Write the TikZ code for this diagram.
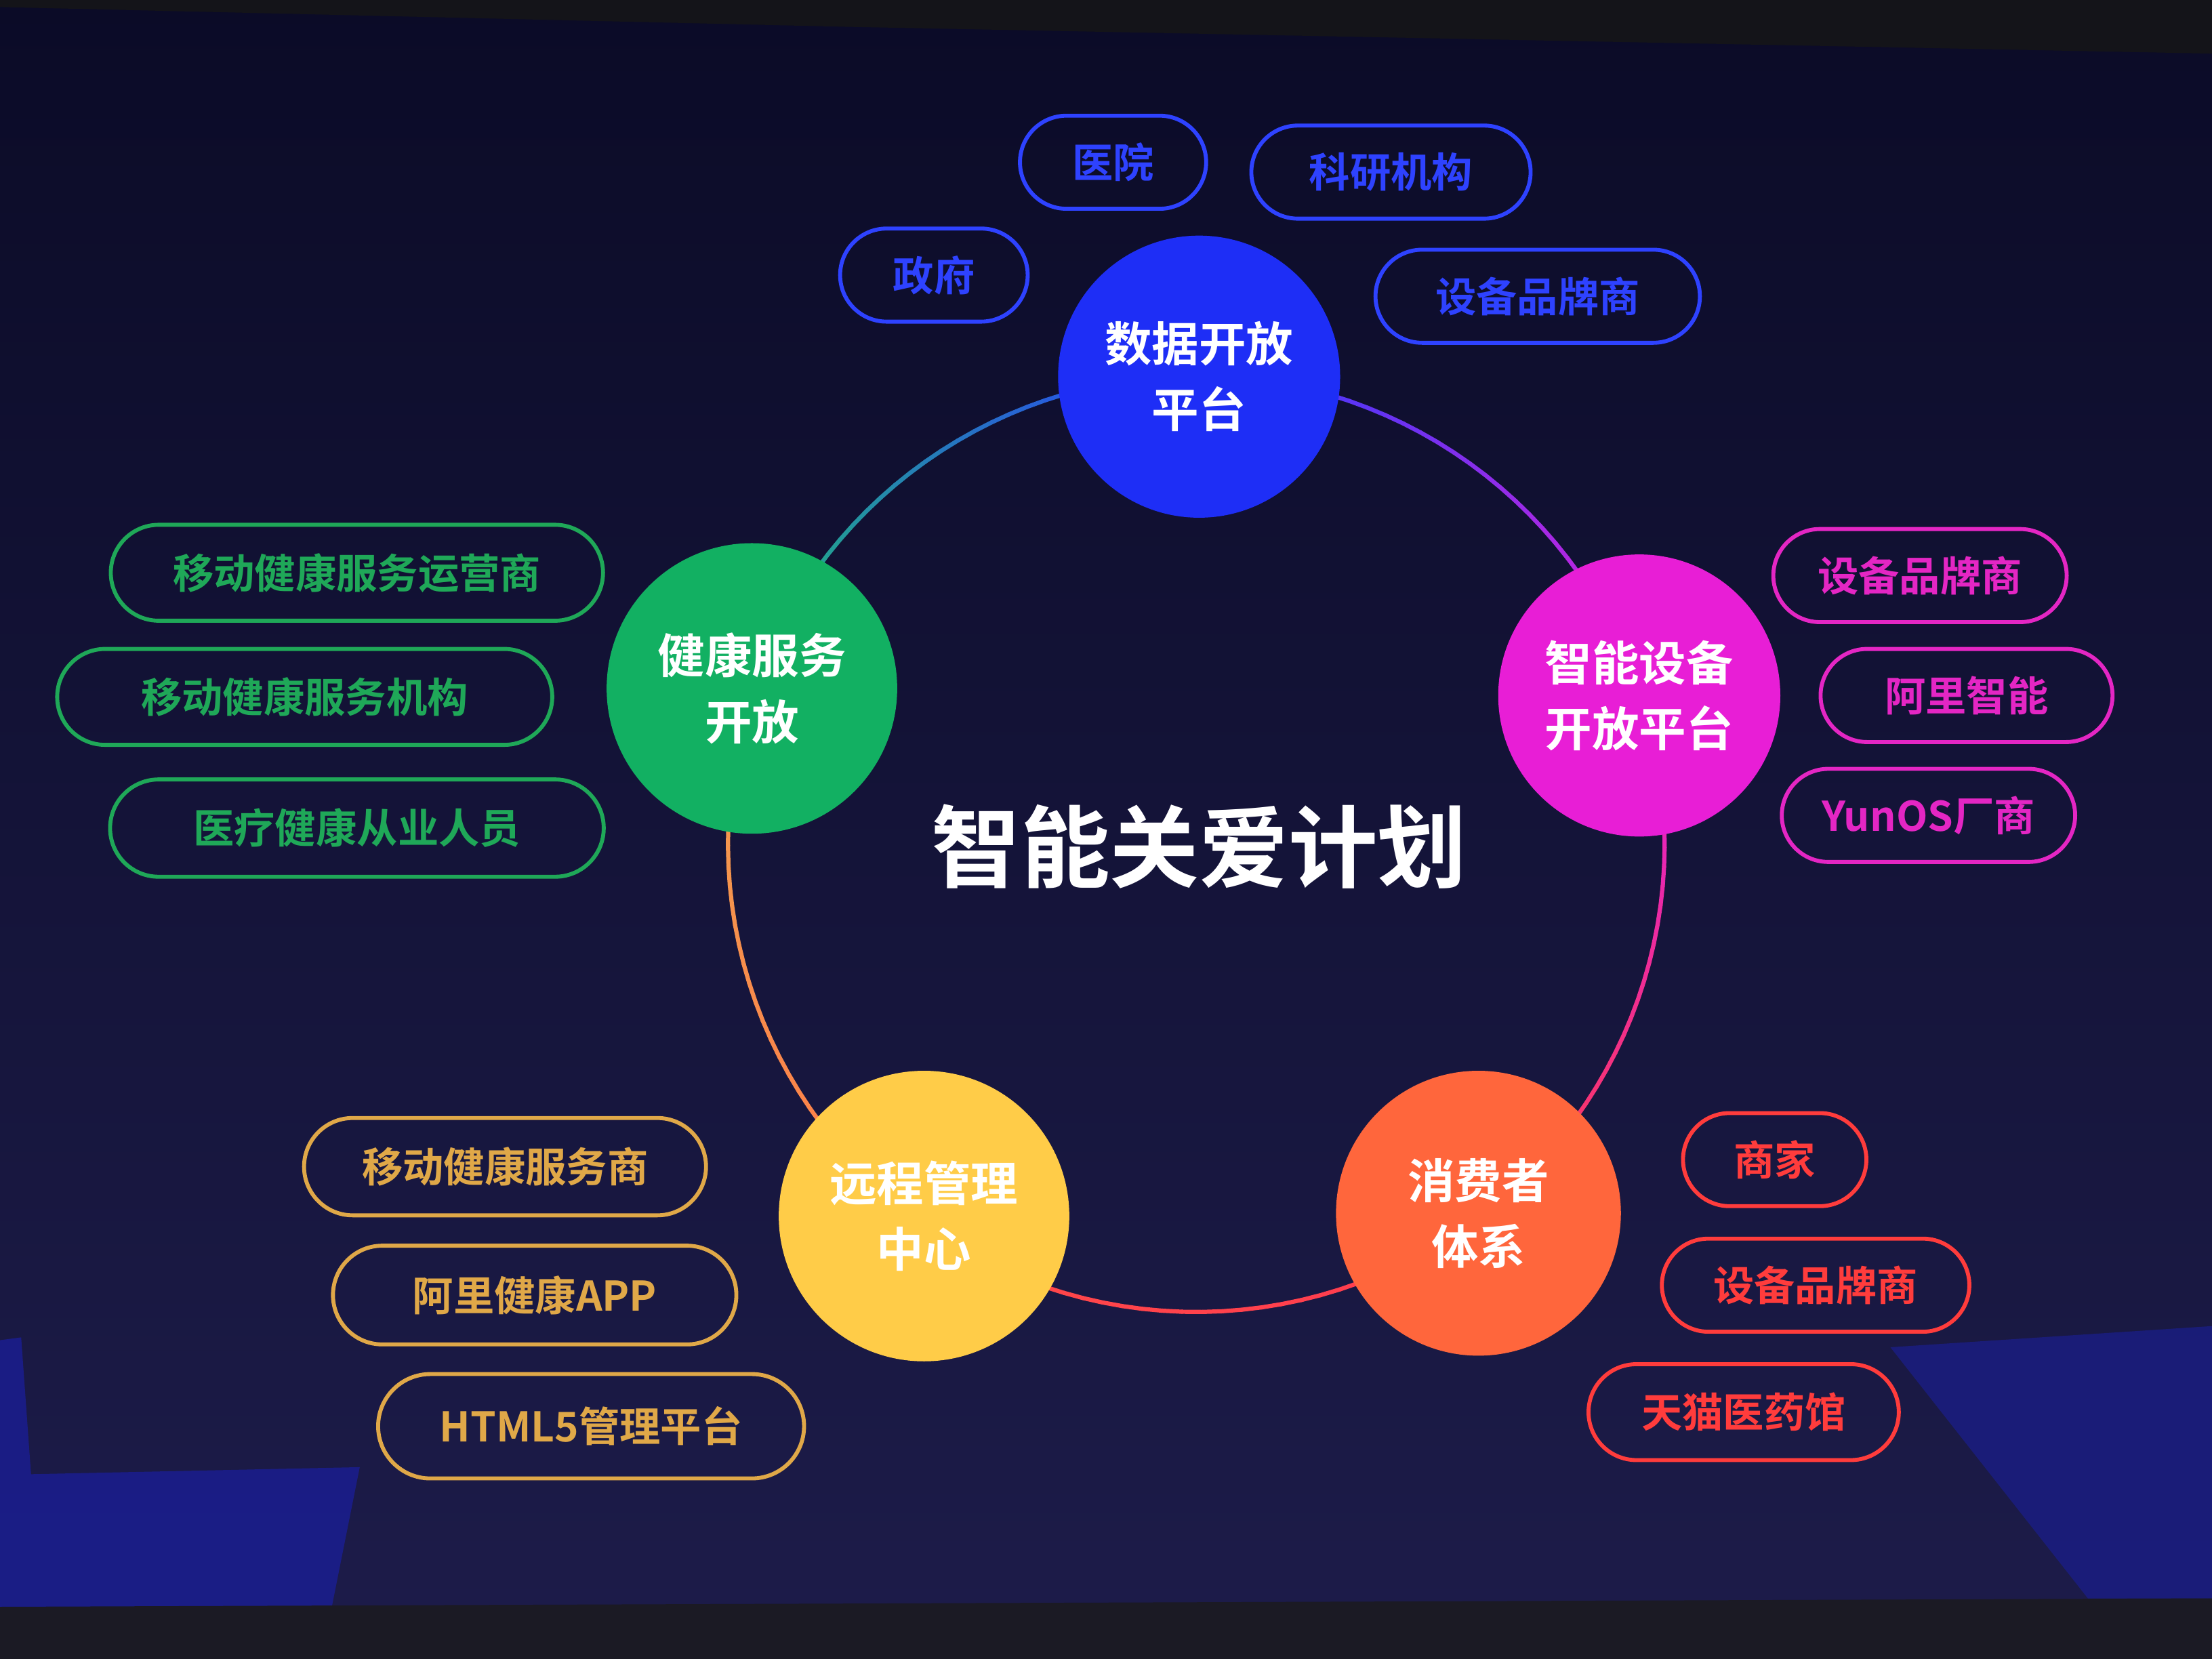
\documentclass[tikz,border=0pt]{standalone}
\usepackage{fontspec}
\usetikzlibrary{shapes.misc}
\newfontfamily\cjk[BoldFont={Noto Sans CJK SC Bold}]{Noto Sans CJK SC}
\definecolor{bgtop}{HTML}{0B0B27}
\definecolor{bgbot}{HTML}{1D1C4A}
\definecolor{band}{HTML}{141419}
\definecolor{floor}{HTML}{1B1A24}
\definecolor{stage}{HTML}{1A1E9A}
\definecolor{cblue}{HTML}{1E2EF6}
\definecolor{cmag}{HTML}{E81ED6}
\definecolor{cred}{HTML}{FF663C}
\definecolor{cyel}{HTML}{FFCC48}
\definecolor{cgreen}{HTML}{12B062}
\definecolor{pblue}{HTML}{2E42FF}
\definecolor{pmag}{HTML}{E426C4}
\definecolor{pred}{HTML}{FF3C3C}
\definecolor{pgold}{HTML}{E0A848}
\definecolor{pgreen}{HTML}{1FA858}
\definecolor{rblue}{HTML}{2A3CFF}
\definecolor{rmag}{HTML}{E020D8}
\definecolor{rred}{HTML}{FF3A50}
\definecolor{rred2}{HTML}{FF4A48}
\definecolor{rora}{HTML}{FF7A48}
\definecolor{rora2}{HTML}{F0A050}
\definecolor{rgreen}{HTML}{20C070}
\begin{document}
\begin{tikzpicture}[x=0.02cm,y=-0.02cm,
  hub/.style={circle, inner sep=0pt, minimum size=4.04cm, align=center, text=white,
    font=\cjk\bfseries\fontsize{19}{26.6}\selectfont},
  pill/.style={rounded rectangle, draw, line width=1.6pt, inner sep=0pt,
    minimum height=1.32cm, font=\cjk\bfseries\fontsize{16.5}{20}\selectfont},
  ring/.style={line width=1.7pt, line cap=round}]
\useasboundingbox (0,0) rectangle (1568,1176);
% background
\shade[top color=bgtop, bottom color=bgbot] (0,0) rectangle (1568,1176);
\fill[band] (0,0) -- (1568,0) -- (1568,38) -- (600,19) -- (0,5) -- cycle;
\fill[stage, opacity=0.75] (0,950) -- (15,948) -- (22,1045) -- (255,1040) -- (235,1140) -- (0,1140) -- cycle;
\fill[stage, opacity=0.6] (1340,955) -- (1568,940) -- (1568,1133) -- (1480,1133) -- cycle;
\fill[floor] (0,1139) -- (1568,1133) -- (1568,1176) -- (0,1176) -- cycle;
% ring
\foreach \sa/\ea/\ca/\cb in {90/18.5/rblue/rmag, 18.5/-52.6/rmag/rred, -52.6/-126/rred/rred2, -126/-199.3/rora/rora2, -199.3/-270/rgreen/rblue}{
  \foreach \i in {0,...,29}{
    \pgfmathsetmacro{\ta}{\sa+((\ea)-(\sa))*\i/30}
    \pgfmathsetmacro{\tb}{\sa+((\ea)-(\sa))*(\i+1)/30}
    \pgfmathtruncatemacro{\p}{100*(\i+0.5)/30}
    \draw[ring, draw=\cb!\p!\ca] ({848+332*cos(\ta)},{598-332*sin(\ta)}) -- ({848+332*cos(\tb)},{598-332*sin(\tb)});
  }
}
% hubs
\node[hub, fill=cblue, minimum size=4.0cm] (data) at (850,267) {数据开放\\平台};
\node[hub, fill=cmag, minimum size=4.0cm] (smart) at (1162,493) {智能设备\\开放平台};
\node[hub, fill=cred] (consumer) at (1048,860) {消费者\\体系};
\node[hub, fill=cyel, minimum size=4.12cm] (remote) at (655,862) {远程管理\\中心};
\node[hub, fill=cgreen, minimum size=4.12cm] (health) at (533,488) {健康服务\\开放};
% title
\node[text=white, font=\cjk\bfseries\fontsize{36}{40}\selectfont] (title) at (850,600) {智能关爱计划};
% top pills
\node[pill, draw=pblue, text=pblue, minimum width=2.64cm] (p1) at (789,115) {医院};
\node[pill, draw=pblue, text=pblue, minimum width=3.96cm] (p2) at (986,122) {科研机构};
\node[pill, draw=pblue, text=pblue, minimum width=2.66cm] (p3) at (662,195) {政府};
\node[pill, draw=pblue, text=pblue, minimum width=4.6cm] (p4) at (1090,210) {设备品牌商};
% right pills
\node[pill, draw=pmag, text=pmag, minimum width=4.16cm] (p5) at (1361,408) {设备品牌商};
\node[pill, draw=pmag, text=pmag, minimum width=4.14cm] (p6) at (1394,493) {阿里智能};
\node[pill, draw=pmag, text=pmag, minimum width=4.16cm] (p7) at (1367,578) {YunOS厂商};
% bottom right pills
\node[pill, draw=pred, text=pred, minimum width=2.6cm] (p8) at (1258,822) {商家};
\node[pill, draw=pred, text=pred, minimum width=4.36cm] (p9) at (1287,911) {设备品牌商};
\node[pill, draw=pred, text=pred, minimum width=4.4cm, minimum height=1.36cm] (p10) at (1236,1001) {天猫医药馆};
% bottom left pills
\node[pill, draw=pgold, text=pgold, minimum width=5.7cm, minimum height=1.38cm] (p11) at (358,827) {移动健康服务商};
\node[pill, draw=pgold, text=pgold, minimum width=5.72cm, minimum height=1.4cm] (p12) at (379,918) {阿里健康APP};
\node[pill, draw=pgold, text=pgold, minimum width=6.04cm, minimum height=1.48cm] (p13) at (419,1011) {HTML5管理平台};
% left pills
\node[pill, draw=pgreen, text=pgreen, minimum width=6.98cm, minimum height=1.36cm] (p14) at (253,406) {移动健康服务运营商};
\node[pill, draw=pgreen, text=pgreen, minimum width=7.02cm, minimum height=1.36cm] (p15) at (216,494) {移动健康服务机构};
\node[pill, draw=pgreen, text=pgreen, minimum width=7.0cm, minimum height=1.38cm] (p16) at (253,587) {医疗健康从业人员};
\end{tikzpicture}
\end{document}
